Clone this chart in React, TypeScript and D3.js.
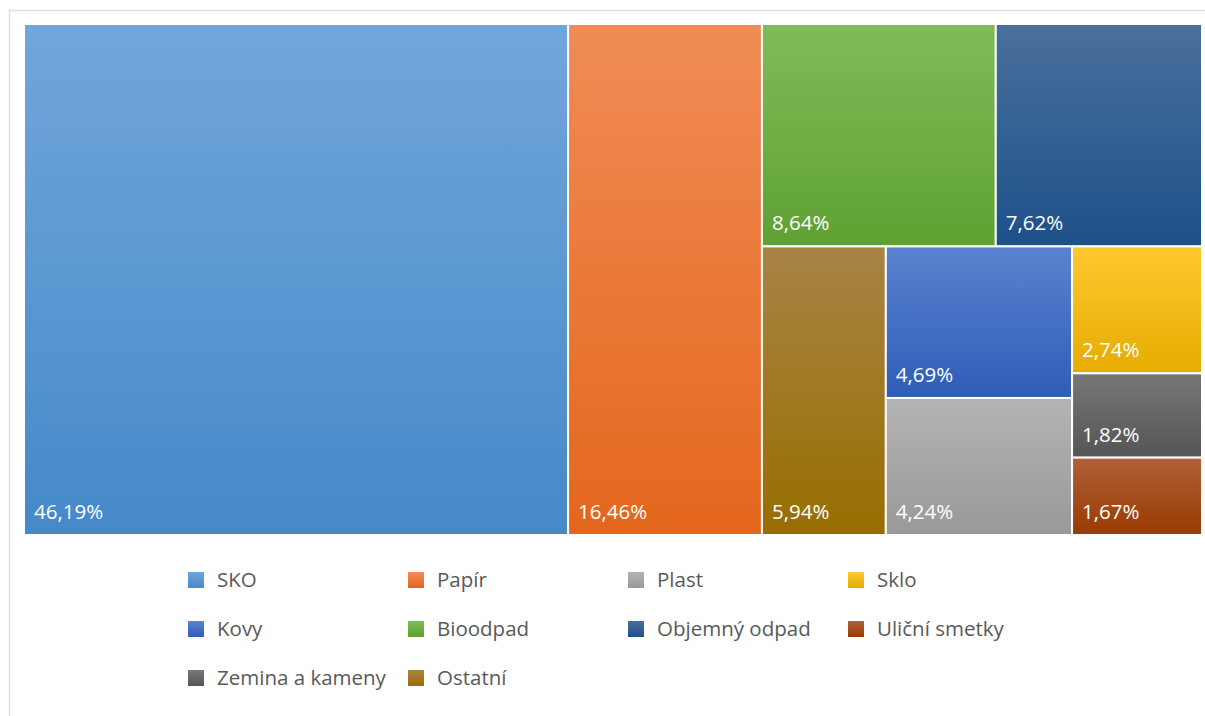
import React from "react";
import * as d3 from "d3";

const categories = ["SKO", "Papír", "Plast", "Sklo", "Kovy", "Bioodpad", "Objemný odpad", "Uliční smetky", "Zemina a kameny", "Ostatní"];
const values = [46.19, 16.46, 4.24, 2.74, 4.69, 8.64, 7.62, 1.67, 1.82, 5.94];
const colorsTop = ["#71a6db", "#f08c56", "#b4b4b4", "#ffc830", "#5a84d0", "#80bb58", "#4a6f9c", "#b0603a", "#777777", "#a88445"];
const colorsBottom = ["#4589c9", "#e4661c", "#999999", "#e6ac00", "#2f5cb6", "#5ea132", "#1d5189", "#993b00", "#555555", "#986d00"];

// Excel's squarified arrangement, expressed as nested groups (rows/columns)
const layoutGroups: any = ["SKO", "Papír", [["Bioodpad", "Objemný odpad"], ["Ostatní", ["Kovy", "Plast"], ["Sklo", "Zemina a kameny", "Uliční smetky"]]]];

const W = 1205;
const H = 716;
const area = { x0: 24, y0: 24, x1: 1202, y1: 535 };

function build(node: any): any {
  if (Array.isArray(node)) return { children: node.map(build) };
  const i = categories.indexOf(node);
  return { name: node, value: values[i], idx: i };
}

export default function App() {
  const root = d3
    .hierarchy(build(layoutGroups))
    .sum((d: any) => d.value || 0);
  d3.treemap().tile(d3.treemapSliceDice).size([area.x1 - area.x0, area.y1 - area.y0])(root as any);
  const leaves = root.leaves() as any[];
  const fmt = (v: number) => v.toFixed(2).replace(".", ",") + "%";

  const legendX = d3.scalePoint<number>().domain([0, 1, 2, 3]).range([188, 848]);
  const legendY = d3.scalePoint<number>().domain([0, 1, 2]).range([580, 678]);

  return (
    <svg width={W} height={H} style={{ position: "absolute", left: 0, top: 0, background: "#fff" }} fontFamily="'Open Sans', sans-serif">
      <defs>
        {categories.map((c, i) => (
          <linearGradient key={c} id={`g${i}`} x1="0" y1="0" x2="0" y2="1">
            <stop offset="0" stopColor={colorsTop[i]} />
            <stop offset="1" stopColor={colorsBottom[i]} />
          </linearGradient>
        ))}
      </defs>
      <rect x={9.5} y={10.5} width={1400} height={900} fill="#fff" stroke="#dcdfe6" strokeWidth={1.5} />
      <g transform={`translate(${area.x0},${area.y0})`}>
        {leaves.map((l) => (
          <g key={l.data.name}>
            <rect x={l.x0} y={l.y0} width={l.x1 - l.x0} height={l.y1 - l.y0} fill={`url(#g${l.data.idx})`} stroke="#fff" strokeWidth={2} />
            <text x={l.x0 + 10} y={l.y1 - 16} fill="#fff" fontSize={20.5}>
              {fmt(l.data.value)}
            </text>
          </g>
        ))}
      </g>
      <g>
        {categories.map((c, i) => {
          const x = legendX(i % 4)!;
          const y = legendY(Math.floor(i / 4))!;
          return (
            <g key={c}>
              <rect x={x} y={y - 8} width={16} height={16} fill={`url(#g${i})`} />
              <text x={x + 29} y={y} dy="0.35em" fill="#595959" fontSize={20.5}>
                {c}
              </text>
            </g>
          );
        })}
      </g>
    </svg>
  );
}
